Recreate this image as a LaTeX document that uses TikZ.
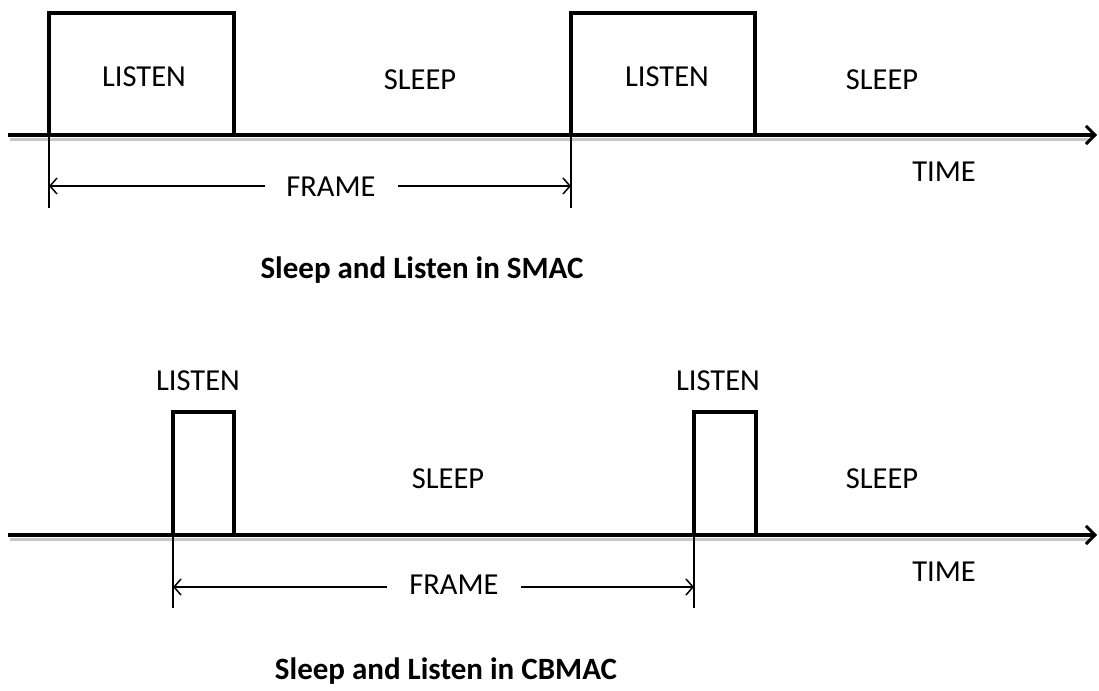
\documentclass[tikz,border=0pt]{standalone}
\usepackage{fontspec}
\setmainfont{Carlito}
\usetikzlibrary{arrows.meta}
\begin{document}
\begin{tikzpicture}[x=1pt,y=-1pt,
  lbl/.style={font=\fontsize{30.5}{34}\selectfont, inner sep=0pt},
  ttl/.style={font=\fontsize{31}{35}\selectfont\bfseries, inner sep=0pt},
  slot/.style={line width=3.5pt, line join=miter},
  axis/.style={line width=3.5pt, -{Straight Barb[length=9pt,width=18pt,line width=3pt]}},
  shade/.style={line width=3pt, gray!45},
  tick/.style={line width=1.5pt},
  span/.style={line width=1.5pt, -{Straight Barb[length=7pt,width=16pt,line width=1.5pt]}}]
\useasboundingbox (0,0) rectangle (1099,690);

% ---- SMAC ----
\draw[shade] (10,139) -- (1090,139);
\coordinate (a0) at (8,135);
\coordinate (a1) at (1097,135);
\draw[axis] (a0) -- (a1);
\draw[slot] (49,135) rectangle (234,13);
\draw[slot] (571,135) rectangle (755,13);
\node[lbl] (l1) at (144,77) {LISTEN};
\node[lbl] (s1) at (420,80) {SLEEP};
\node[lbl] (l2) at (667,77) {LISTEN};
\node[lbl] (s2) at (882,80) {SLEEP};
\node[lbl] (t1) at (944,172) {TIME};
\coordinate (f1a) at (49,135);
\coordinate (f1b) at (49,208);
\coordinate (f2a) at (571,135);
\coordinate (f2b) at (571,208);
\draw[tick] (f1a) -- (f1b);
\draw[tick] (f2a) -- (f2b);
\node[lbl] (fr1) at (331,187) {FRAME};
\coordinate (p1) at (49,186);
\coordinate (p2) at (571,186);
\draw[span] (265,186) -- (p1);
\draw[span] (398,186) -- (p2);
\node[ttl] (c1) at (422,270) {Sleep and Listen in SMAC};

% ---- CBMAC ----
\draw[shade] (10,539) -- (1090,539);
\coordinate (b0) at (8,535);
\coordinate (b1) at (1097,535);
\draw[axis] (b0) -- (b1);
\draw[slot] (173,535) rectangle (234,412);
\draw[slot] (694,535) rectangle (756,412);
\node[lbl] (l3) at (198,381) {LISTEN};
\node[lbl] (s3) at (448,479) {SLEEP};
\node[lbl] (l4) at (718,381) {LISTEN};
\node[lbl] (s4) at (882,479) {SLEEP};
\node[lbl] (t2) at (944,572) {TIME};
\coordinate (g1a) at (173,535);
\coordinate (g1b) at (173,608);
\coordinate (g2a) at (694,535);
\coordinate (g2b) at (694,608);
\draw[tick] (g1a) -- (g1b);
\draw[tick] (g2a) -- (g2b);
\node[lbl] (fr2) at (454,585) {FRAME};
\coordinate (q1) at (173,587);
\coordinate (q2) at (694,587);
\draw[span] (387,587) -- (q1);
\draw[span] (521,587) -- (q2);
\node[ttl] (c2) at (446,671) {Sleep and Listen in CBMAC};
\end{tikzpicture}
\end{document}
